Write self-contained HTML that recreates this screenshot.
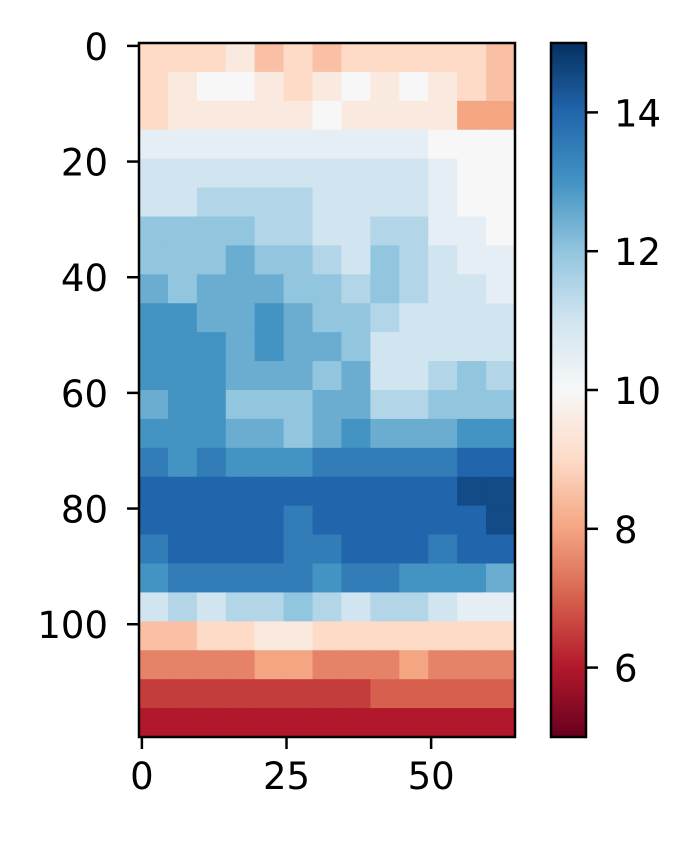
<!DOCTYPE html>
<html><head><meta charset="utf-8"><style>
html,body{margin:0;padding:0;background:#fff;}
svg text{font-family:"DejaVu Sans","Liberation Sans",sans-serif;font-size:37px;fill:#000;}
</style></head><body>
<svg id="chart" width="698" height="837" viewBox="0 0 698 837" xmlns="http://www.w3.org/2000/svg">
<g id="cells"></g>
<g id="axes"></g>
<g id="cbar"></g>
</svg>
<script>
// coarse grid: each block = 5 rows x 5 columns of the 120x65 matrix
const rowBlocks = [0,5,10,15,20,25,30,35,40,45,50,55,60,65,70,75,80,85,90,95,100,105,110,115];
const colBlocks = [0,5,10,15,20,25,30,35,40,45,50,55,60];
const values = [
[9,9,9,9.5,8.5,9,8.5,9,9,9,9,9,8.5],
[9,9.5,10,10,9.5,9,9.5,10,9.5,10,9.5,9,8.5],
[9,9.5,9.5,9.5,9.5,9.5,10,9.5,9.5,9.5,9.5,8,8],
[10.5,10.5,10.5,10.5,10.5,10.5,10.5,10.5,10.5,10.5,10,10,10],
[11,11,11,11,11,11,11,11,11,11,10.5,10,10],
[11,11,11.5,11.5,11.5,11.5,11,11,11,11,10.5,10,10],
[12,12,12,12,11.5,11.5,11,11,11.5,11.5,10.5,10.5,10],
[12,12,12,12.5,12,12,11.5,11,12,11.5,11,10.5,10.5],
[12.5,12,12.5,12.5,12.5,12,12,11.5,12,11.5,11,11,10.5],
[13,13,12.5,12.5,13,12.5,12,12,11.5,11,11,11,11],
[13,13,13,12.5,13,12.5,12.5,12,11,11,11,11,11],
[13,13,13,12.5,12.5,12.5,12,12.5,11,11,11.5,12,11.5],
[12.5,13,13,12,12,12,12.5,12.5,11.5,11.5,12,12,12],
[13,13,13,12.5,12.5,12,12.5,13,12.5,12.5,12.5,13,13],
[13.5,13,13.5,13,13,13,13.5,13.5,13.5,13.5,13.5,14,14],
[14,14,14,14,14,14,14,14,14,14,14,14.5,14.5],
[14,14,14,14,14,13.5,14,14,14,14,14,14,14.5],
[13.5,14,14,14,14,13.5,13.5,14,14,14,13.5,14,14],
[13,13.5,13.5,13.5,13.5,13.5,13,13.5,13.5,13,13,13,12.5],
[11,11.5,11,11.5,11.5,12,11.5,11,11.5,11.5,11,10.5,10.5],
[8.5,8.5,9,9,9.5,9.5,9,9,9,9,9,9,9],
[7.5,7.5,7.5,7.5,8,8,7.5,7.5,7.5,8,7.5,7.5,7.5],
[6.5,6.5,6.5,6.5,6.5,6.5,6.5,6.5,7,7,7,7,7],
[6,6,6,6,6,6,6,6,6,6,6,6,6]
];
const xTicks = [0,25,50];
const yTicks = [0,20,40,60,80,100];
const cTicks = [6,8,10,12,14];
const vmin = 5, vmax = 15, nRows = 120, nCols = 65, blk = 5;

const NS = "http://www.w3.org/2000/svg";
const L = 139, T = 43, R = 515, B = 737;
const xs = c => L + (c + 0.5) / nCols * (R - L);
const ys = r => T + (r + 0.5) / nRows * (B - T);
const CL = 551, CR = 586;
const cs = v => B - (v - vmin) / (vmax - vmin) * (B - T);

const stops = ["#67001f","#b2182b","#d6604d","#f4a582","#fddbc7","#f7f7f7","#d1e5f0","#92c5de","#4393c3","#2166ac","#053061"];
function hex(h){return [1,3,5].map(i=>parseInt(h.substr(i,2),16));}
function color(v){
  let t = Math.max(0, Math.min(1, (v - vmin) / (vmax - vmin)));
  const p = t * (stops.length - 1), i = Math.min(stops.length - 2, Math.floor(p)), f = p - i;
  const a = hex(stops[i]), b = hex(stops[i+1]);
  return "rgb(" + a.map((x,k)=>Math.round(x + (b[k]-x)*f)).join(",") + ")";
}
function mk(tag, attrs, parent){
  const e = document.createElementNS(NS, tag);
  for (const k in attrs) e.setAttribute(k, attrs[k]);
  parent.appendChild(e); return e;
}
const cells = document.getElementById("cells");
rowBlocks.forEach((r0, i) => {
  colBlocks.forEach((c0, j) => {
    const x0 = xs(c0 - 0.5), x1 = xs(Math.min(c0 + blk, nCols) - 0.5);
    const y0 = ys(r0 - 0.5), y1 = ys(Math.min(r0 + blk, nRows) - 0.5);
    const el = mk("rect", {x:x0, y:y0, width:x1 - x0 + 0.5, height:y1 - y0 + 0.5, fill:color(values[i][j])}, cells);
    
    
  });
});
const axes = document.getElementById("axes");
const frame = mk("rect", {x:L, y:T, width:R-L, height:B-T, fill:"none", stroke:"#000", "stroke-width":2.5}, axes);


xTicks.forEach(v => {
  const x = xs(v);
  const t = mk("line", {x1:x, x2:x, y1:B, y2:B+12, stroke:"#000", "stroke-width":2.5}, axes);
  
  
  const l = mk("text", {x:x, y:B+52, "text-anchor":"middle"}, axes);
  l.textContent = v;
  
  
});
yTicks.forEach(v => {
  const y = ys(v);
  const t = mk("line", {x1:L-12, x2:L, y1:y, y2:y, stroke:"#000", "stroke-width":2.5}, axes);
  
  
  const l = mk("text", {x:L-31, y:y+14, "text-anchor":"end"}, axes);
  l.textContent = v;
  
  
});
const cbar = document.getElementById("cbar");
for (let y = T; y < B; y += 1) {
  const v = vmin + (B - y - 0.5) / (B - T) * (vmax - vmin);
  const s = mk("rect", {x:CL, y:y, width:CR-CL, height:1.3, fill:color(v)}, cbar);
  
  
}
const cf = mk("rect", {x:CL, y:T, width:CR-CL, height:B-T, fill:"none", stroke:"#000", "stroke-width":2.5}, cbar);


cTicks.forEach(v => {
  const y = cs(v);
  const t = mk("line", {x1:CR, x2:CR+12, y1:y, y2:y, stroke:"#000", "stroke-width":2.5}, cbar);
  
  
  const l = mk("text", {x:CR+28, y:y+14, "text-anchor":"start"}, cbar);
  l.textContent = v;
  
  
});
</script>
</body></html>
